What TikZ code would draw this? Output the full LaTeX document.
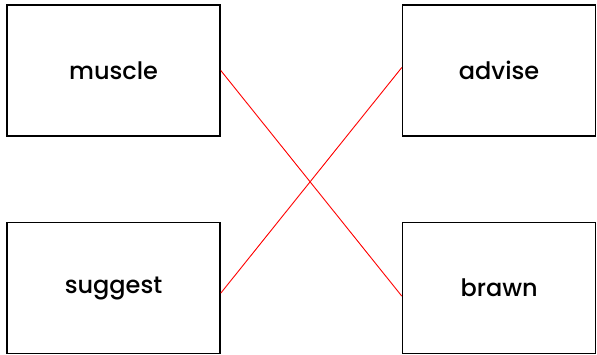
\documentclass[tikz,border=0pt]{standalone}
\usepackage{fontspec}
\setmainfont{Poppins}[BoldFont={Poppins Medium}]
\usetikzlibrary{positioning}

\begin{document}
\begin{tikzpicture}
		[word/.style={rectangle, draw=black, line width=1.6pt, minimum width=213pt, minimum height=131pt, font=\fontsize{24}{28}\selectfont\bfseries},
		 rword/.style={word, minimum width=193pt},
		 match/.style={red, line width=0.9pt}]
		\useasboundingbox (0,0) rectangle (597pt,-354pt);
		\node[word] (muscle) at (113.5pt,-70.5pt) {muscle};
		\node[word, below=85pt of muscle] (suggest) {suggest};

		\node[rword, right=181pt of muscle] (advise) {advise};
		\node[rword, right=181pt of suggest] (brawn) {brawn};

		\draw[match] (muscle.east) to ([yshift=-8pt]brawn.west);
		\draw[match] ([yshift=-5pt]suggest.east) to ([yshift=3pt]advise.west);
	\end{tikzpicture}
\end{document}
